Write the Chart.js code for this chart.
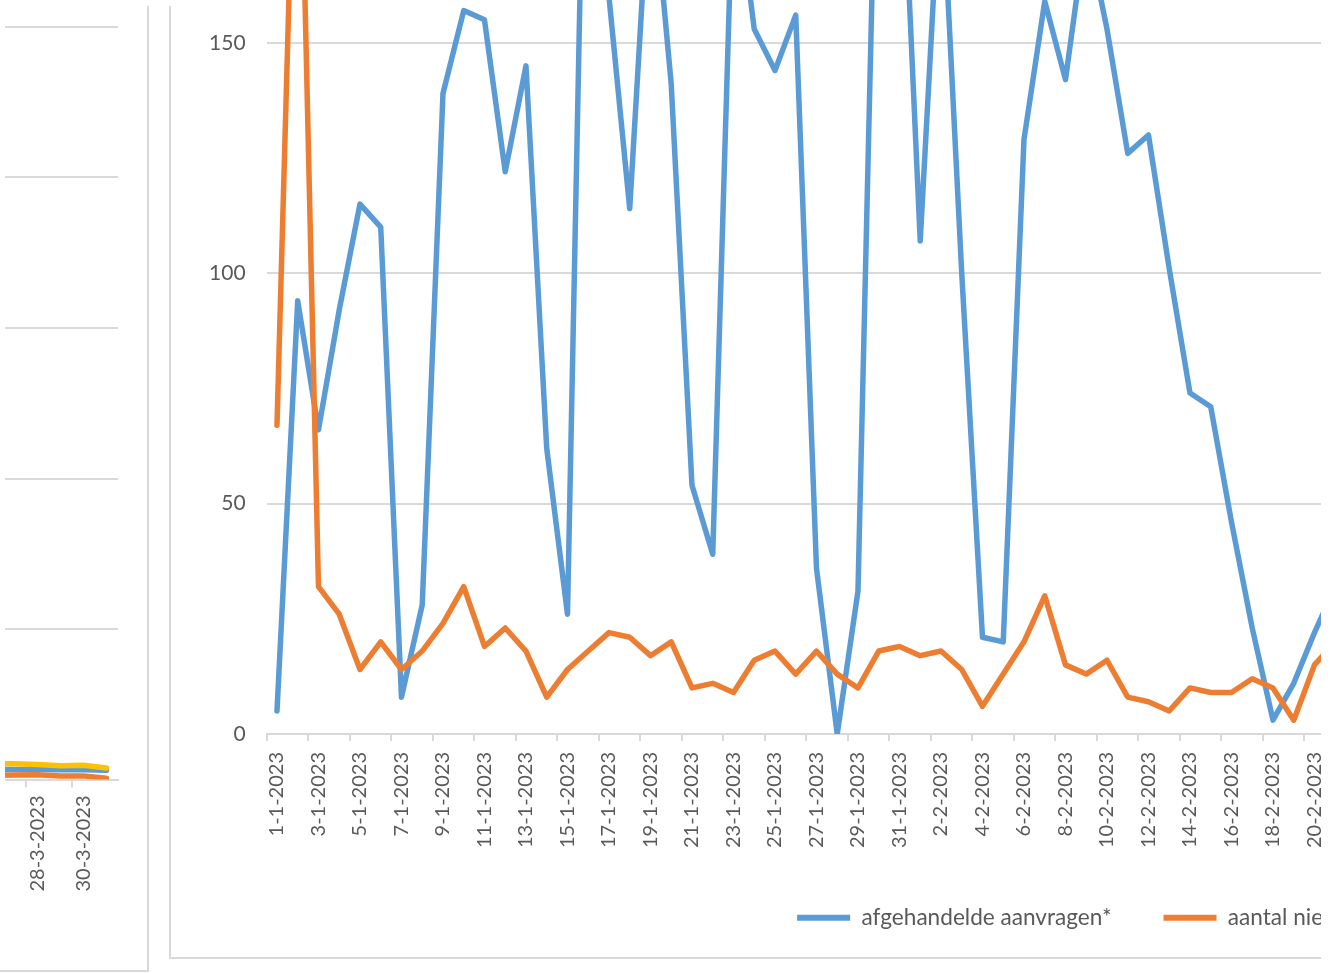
<!DOCTYPE html>
<html>
<head>
<meta charset="utf-8">
<script src="https://cdn.jsdelivr.net/npm/chart.js@4.4.1/dist/chart.umd.min.js"></script>
<style>
  html, body { margin: 0; padding: 0; background: #fff; width: 1340px; height: 973px; overflow: hidden; }
  #clip { position: absolute; left: 0; top: 0; width: 1321px; height: 973px; overflow: hidden; }
  #leftclip { position: absolute; left: 5px; top: 0; width: 142px; height: 973px; overflow: hidden; }
  #links { position: absolute; left: -25px; top: 0; }
  #hoofd { position: absolute; left: 171px; top: -682px; }
  .rand { position: absolute; background: #d9d9d9; }
</style>
</head>
<body>
<div id="clip">
  <div id="leftclip"><canvas id="links" width="167" height="969"></canvas></div>
  <canvas id="hoofd" width="1900" height="1639"></canvas>
</div>
<div class="rand" style="left:147px;top:6px;width:2px;height:966px"></div>
<div class="rand" style="left:0;top:970px;width:149px;height:2px"></div>
<div class="rand" style="left:169px;top:6px;width:2px;height:953px"></div>
<div class="rand" style="left:169px;top:957px;width:1152px;height:2px"></div>
<script>
// dagelijkse cijfers jan/feb 2023
var dagen = ['1-1-2023','2-1-2023','3-1-2023','4-1-2023','5-1-2023','6-1-2023','7-1-2023','8-1-2023','9-1-2023','10-1-2023',
  '11-1-2023','12-1-2023','13-1-2023','14-1-2023','15-1-2023','16-1-2023','17-1-2023','18-1-2023','19-1-2023','20-1-2023',
  '21-1-2023','22-1-2023','23-1-2023','24-1-2023','25-1-2023','26-1-2023','27-1-2023','28-1-2023','29-1-2023','30-1-2023',
  '31-1-2023','1-2-2023','2-2-2023','3-2-2023','4-2-2023','5-2-2023','6-2-2023','7-2-2023','8-2-2023','9-2-2023',
  '10-2-2023','11-2-2023','12-2-2023','13-2-2023','14-2-2023','15-2-2023','16-2-2023','17-2-2023','18-2-2023','19-2-2023',
  '20-2-2023','21-2-2023'];
var afgehandeld = [5,94,66,92,115,110,8,28,139,157,
  155,122,145,62,26,249,160,114,190,141,
  54,39,189,153,144,156,36,0,31,223,
  207,107,190,100,21,20,129,159,142,175,
  153,126,130,101,74,71,46,23,3,11,
  22,32];
var nieuw = [67,228,32,26,14,20,14,18,24,32,
  19,23,18,8,14,18,22,21,17,20,
  10,11,9,16,18,13,18,13,10,18,
  19,17,18,14,6,13,20,30,15,13,
  16,8,7,5,10,9,9,12,10,3,
  15,20];
var reeksen = ['afgehandelde aanvragen*', 'aantal nieuwe aanvragen'];
var yTicks = [0, 50, 100, 150, 200, 250, 300];

// stukje van de grafiek ernaast (eind maart)
var maartDagen = ['26-3-2023','27-3-2023','28-3-2023','29-3-2023','30-3-2023','31-3-2023'];
var maartBlauw = [3.4, 3.3, 3.3, 3.2, 3.2, 3.1];
var maartOranje = [1.4, 1.5, 1.6, 1.2, 1.2, 0.4];
var maartGeel = [5.3, 5.2, 5.0, 4.6, 4.7, 3.8];
var maartTicks = [0, 50, 100, 150, 200, 250];

var BLAUW = '#5B9BD5', ORANJE = '#ED7D31', GEEL = '#FFC000', GRID = '#d9d9d9', TXT = '#595959';
Chart.defaults.font.family = 'Lato, "Open Sans", sans-serif';
Chart.defaults.color = TXT;

function omDeDag(v, i) { return i % 2 === 0 ? this.getLabelForValue(v) : ''; }
function tickKleur(ctx) { return ctx.index % 2 === 0 ? GRID : 'rgba(0,0,0,0)'; }

var lijnen = {
  line: { borderWidth: 5.5, tension: 0, borderJoinStyle: 'round', borderCapStyle: 'round', fill: false },
  point: { radius: 0, hoverRadius: 0 }
};

// breedte canvas zo kiezen dat de legenda op dezelfde plek valt
var legPad = 52, legBox = 53, legSize = 22.6;
var meet = document.createElement('canvas').getContext('2d');
meet.font = legSize + 'px Lato';
var LW = 0;
reeksen.forEach(function (t) { LW += legBox + legSize / 2 + meet.measureText(t).width + legPad; });
var W = Math.round(2 * 626 - legPad + LW);
var c = document.getElementById('hoofd');
c.width = W;

new Chart(c, {
  type: 'line',
  data: {
    labels: dagen,
    datasets: [
      { label: reeksen[0], data: afgehandeld, borderColor: BLAUW, backgroundColor: BLAUW, order: 1 },
      { label: reeksen[1], data: nieuw, borderColor: ORANJE, backgroundColor: ORANJE, order: 0 }
    ]
  },
  options: {
    responsive: false,
    animation: false,
    layout: { padding: { top: 9.8, bottom: 18, left: 0, right: 0 } },
    elements: lijnen,
    plugins: {
      tooltip: { enabled: false },
      legend: {
        position: 'bottom',
        labels: {
          boxWidth: legBox, boxHeight: 6, padding: legPad, color: TXT,
          font: { size: legSize },
          sort: function (a, b) { return a.datasetIndex - b.datasetIndex; },
          generateLabels: function (chart) {
            var items = Chart.defaults.plugins.legend.labels.generateLabels(chart);
            items.forEach(function (it) { it.lineWidth = 0; });
            return items;
          }
        }
      }
    },
    scales: {
      x: {
        offset: true,
        grid: { offset: true, drawOnChartArea: false, tickLength: 7, color: tickKleur, lineWidth: 2 },
        border: { color: GRID, width: 2 },
        ticks: { autoSkip: false, minRotation: 90, maxRotation: 90, padding: 11, font: { size: 20 }, callback: omDeDag },
        afterFit: function (s) { s.height = 123 - (legPad - 50) - (legSize - 22); }
      },
      y: {
        min: yTicks[0], max: yTicks[yTicks.length - 1],
        ticks: { stepSize: yTicks[1] - yTicks[0], padding: 21, font: { size: 21 } },
        grid: { color: GRID, lineWidth: 2, drawTicks: false },
        border: { display: false },
        afterFit: function (s) { s.width = 95.6; }
      },
      rechts: {
        position: 'right',
        grid: { display: false }, ticks: { display: false }, border: { display: false },
        afterFit: function (s) { s.width = W - 1174.6; }
      }
    }
  }
});

new Chart(document.getElementById('links'), {
  type: 'line',
  data: {
    labels: maartDagen,
    datasets: [
      { data: maartBlauw, borderColor: BLAUW, order: 2 },
      { data: maartOranje, borderColor: ORANJE, order: 1 },
      { data: maartGeel, borderColor: GEEL, order: 0 }
    ]
  },
  options: {
    responsive: false,
    animation: false,
    layout: { padding: { top: 27, right: 29, left: 0, bottom: 0 } },
    elements: lijnen,
    plugins: { legend: { display: false }, tooltip: { enabled: false } },
    scales: {
      x: {
        offset: true,
        grid: { offset: true, drawOnChartArea: false, tickLength: 8, color: tickKleur, lineWidth: 2 },
        border: { color: GRID, width: 2 },
        ticks: { autoSkip: false, minRotation: 90, maxRotation: 90, padding: 8, font: { size: 20 }, callback: omDeDag },
        afterFit: function (s) { s.height = 189.5; }
      },
      y: {
        min: maartTicks[0], max: maartTicks[maartTicks.length - 1],
        ticks: { display: false, stepSize: maartTicks[1] - maartTicks[0] },
        grid: { color: GRID, lineWidth: 2, drawTicks: false },
        border: { display: false },
        afterFit: function (s) { s.width = 0; }
      }
    }
  }
});
</script>
</body>
</html>
